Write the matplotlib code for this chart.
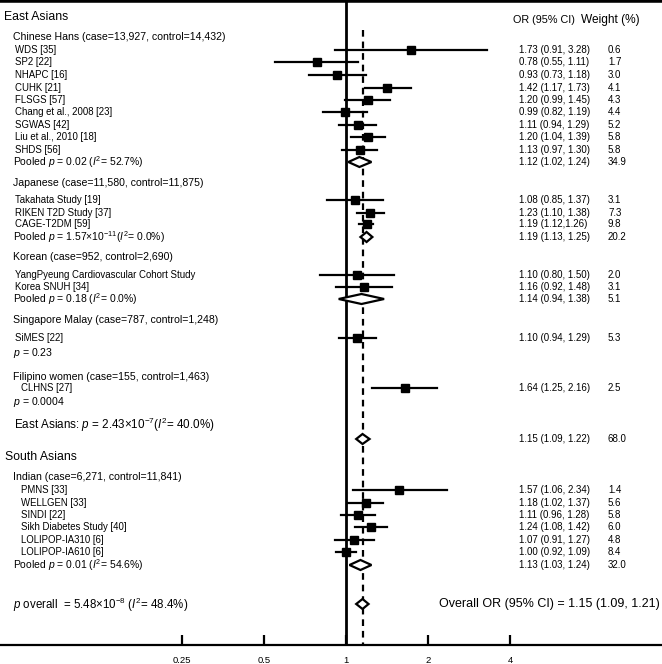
import numpy as np
import matplotlib.pyplot as plt
from matplotlib.patches import Polygon
from matplotlib.ticker import NullLocator

plt.rcParams['font.family'] = 'Liberation Sans'
plt.rcParams['mathtext.fontset'] = 'custom'
plt.rcParams['mathtext.rm'] = 'Liberation Sans'
plt.rcParams['mathtext.it'] = 'Liberation Sans:italic'

# individual studies
study = ['WDS [35]', 'SP2 [22]', 'NHAPC [16]', 'CUHK [21]', 'FLSGS [57]',
         'Chang et al., 2008 [23]', 'SGWAS [42]', 'Liu et al., 2010 [18]', 'SHDS [56]',
         'Takahata Study [19]', 'RIKEN T2D Study [37]', 'CAGE-T2DM [59]',
         'YangPyeung Cardiovascular Cohort Study', 'Korea SNUH [34]',
         'SiMES [22]', 'CLHNS [27]',
         'PMNS [33]', 'WELLGEN [33]', 'SINDI [22]', 'Sikh Diabetes Study [40]',
         'LOLIPOP-IA310 [6]', 'LOLIPOP-IA610 [6]']
study_or = [1.73, 0.78, 0.93, 1.42, 1.20, 0.99, 1.11, 1.20, 1.13,
            1.08, 1.23, 1.19, 1.10, 1.16, 1.10, 1.64,
            1.57, 1.18, 1.11, 1.24, 1.07, 1.00]
study_lo = [0.91, 0.55, 0.73, 1.17, 0.99, 0.82, 0.94, 1.04, 0.97,
            0.85, 1.10, 1.12, 0.80, 0.92, 0.94, 1.25,
            1.06, 1.02, 0.96, 1.08, 0.91, 0.92]
study_hi = [3.28, 1.11, 1.18, 1.73, 1.45, 1.19, 1.29, 1.39, 1.30,
            1.37, 1.38, 1.26, 1.50, 1.48, 1.29, 2.16,
            2.34, 1.37, 1.28, 1.42, 1.27, 1.09]
study_w = [0.6, 1.7, 3.0, 4.1, 4.3, 4.4, 5.2, 5.8, 5.8,
           3.1, 7.3, 9.8, 2.0, 3.1, 5.3, 2.5,
           1.4, 5.6, 5.8, 6.0, 4.8, 8.4]

# pooled estimates per population
pooled_label = ['Pooled $p$ = 0.02 ($I^2$= 52.7%)',
                'Pooled $p$ = 1.57×10$^{-11}$($I^2$= 0.0%)',
                'Pooled $p$ = 0.18 ($I^2$= 0.0%)',
                'Pooled $p$ = 0.01 ($I^2$= 54.6%)']
pooled_or = [1.12, 1.19, 1.14, 1.13]
pooled_lo = [1.02, 1.13, 0.94, 1.03]
pooled_hi = [1.24, 1.25, 1.38, 1.24]
pooled_w = [34.9, 20.2, 5.1, 32.0]

# East Asian summary and overall
east_or, east_lo, east_hi, east_w = 1.15, 1.09, 1.22, 68.0
all_or, all_lo, all_hi = 1.15, 1.09, 1.21

xticks = [0.25, 0.5, 1, 2, 4]
xtick_labels = ['0.25', '0.5', '1', '2', '4']

# layout (rows in pixel-like units from the top)
study_y = [50, 62, 75, 88, 100, 112, 125, 137, 150,
           200, 213, 224, 275, 287, 338, 388,
           490, 503, 515, 527, 540, 552]
study_x = [15] * 15 + [21] * 7
pooled_y = [162, 237, 299, 565]
east_y = 439
all_y = 604

headers = [
    ('East Asians', 4, 17, 8.8),
    ('Chinese Hans (case=13,927, control=14,432)', 13, 37, 7.6),
    ('Japanese (case=11,580, control=11,875)', 13, 183, 7.6),
    ('Korean (case=952, control=2,690)', 13, 257, 7.6),
    ('Singapore Malay (case=787, control=1,248)', 13, 320, 7.6),
    ('$p$ = 0.23', 13, 353, 7.6),
    ('Filipino women (case=155, control=1,463)', 13, 377, 7.6),
    ('$p$ = 0.0004', 13, 402, 7.6),
    ('East Asians: $p$ = 2.43×10$^{-7}$($I^2$= 40.0%)', 14, 425, 8.4),
    ('South Asians', 5, 457, 8.8),
    ('Indian (case=6,271, control=11,841)', 13, 477, 7.6),
    ('$p$ overall  = 5.48×10$^{-8}$ ($I^2$= 48.4%)', 13, 605, 8.3),
]

W, H = 662, 664
fig = plt.figure(figsize=(W / 100, H / 100), dpi=100)
ax = fig.add_axes([0, 19 / H, 1, 645 / H])
ax.set_xscale('log', base=2)
ax.set_xlim(2 ** (-346 / 82), 2 ** (316 / 82))
ax.set_ylim(645, 0)
tr = ax.get_yaxis_transform()


def ci_text(o, l, h, sep=', '):
    return f'{o:.2f} ({l:.2f}{sep}{h:.2f})'


def diamond(o, l, h, y):
    pts = [(l, y), (o, y - 5), (h, y), (o, y + 5)]
    ax.add_patch(Polygon(pts, closed=True, facecolor='white',
                         edgecolor='black', lw=1.6, zorder=4))


# reference lines
ax.axvline(1, color='black', lw=2, zorder=2)
ax.plot([all_or, all_or], [30, 645], color='black', lw=1.6,
        ls=(0, (3, 2.2)), zorder=1)

for i in range(len(study)):
    y = study_y[i]
    ax.plot([study_lo[i], study_hi[i]], [y, y], color='black', lw=1.6, zorder=3)
    ax.plot(study_or[i], y, marker='s', ms=5.3, color='black', zorder=4)
    ax.text(study_x[i] / W, y, study[i], transform=tr, fontsize=6.9, va='center')
    sep = ',' if study[i].startswith('CAGE') else ', '
    ax.text(519 / W, y, ci_text(study_or[i], study_lo[i], study_hi[i], sep),
            transform=tr, fontsize=7, va='center')
    ax.text(608 / W, y, f'{study_w[i]:.1f}', transform=tr, fontsize=7, va='center')

for i in range(len(pooled_or)):
    y = pooled_y[i]
    diamond(pooled_or[i], pooled_lo[i], pooled_hi[i], y)
    ax.text(13 / W, y, pooled_label[i], transform=tr, fontsize=7.5, va='center')
    ax.text(519 / W, y, ci_text(pooled_or[i], pooled_lo[i], pooled_hi[i]),
            transform=tr, fontsize=7, va='center')
    ax.text(608 / W, y, f'{pooled_w[i]:.1f}', transform=tr, fontsize=7, va='center')

diamond(east_or, east_lo, east_hi, east_y)
ax.text(519 / W, east_y, ci_text(east_or, east_lo, east_hi),
        transform=tr, fontsize=7, va='center')
ax.text(608 / W, east_y, f'{east_w:.1f}', transform=tr, fontsize=7, va='center')

diamond(all_or, all_lo, all_hi, all_y)
ax.text(660 / W, all_y, 'Overall OR (95% CI) = ' + ci_text(all_or, all_lo, all_hi),
        transform=tr, fontsize=9, va='center', ha='right')

for txt, x, y, fs in headers:
    ax.text(x / W, y, txt, transform=tr, fontsize=fs, va='center')

ax.text(513 / W, 20, 'OR (95% CI)', transform=tr, fontsize=7.8, va='center')
ax.text(581 / W, 20, 'Weight (%)', transform=tr, fontsize=8.6, va='center')

# axes styling
for s in ['left', 'right']:
    ax.spines[s].set_visible(False)
ax.spines['top'].set_linewidth(4)
ax.spines['bottom'].set_linewidth(1.6)
ax.set_yticks([])
ax.set_xticks(xticks)
ax.set_xticklabels(xtick_labels)
ax.xaxis.set_minor_locator(NullLocator())
ax.tick_params(axis='x', direction='in', length=7, width=1.6,
               labelsize=6.8, pad=8)

fig.savefig('out.png', dpi=100)
